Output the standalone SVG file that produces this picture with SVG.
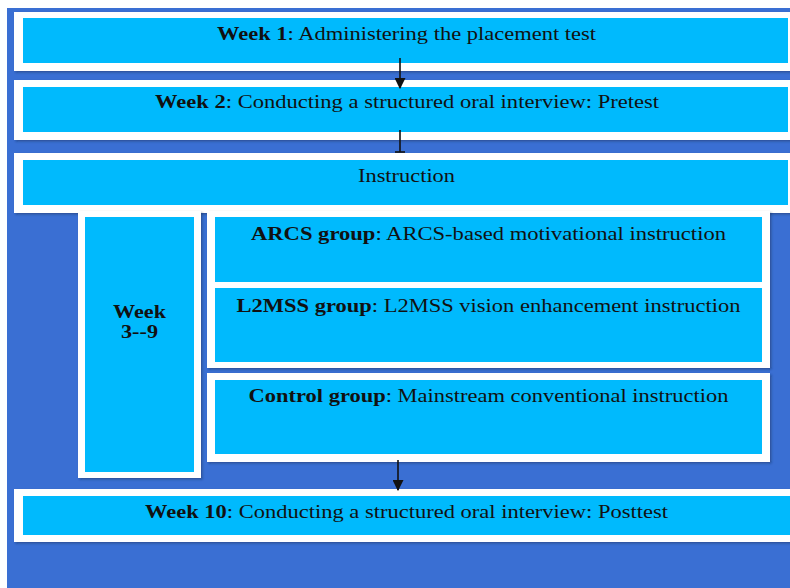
<svg xmlns="http://www.w3.org/2000/svg" width="790" height="588" viewBox="0 0 790 588">
<style>
.frame{fill:#ffffff;filter:url(#sh)}
.box{fill:#00BAFD}
.t{font-family:"Liberation Serif","Times New Roman",serif;font-size:18.5px;fill:#111;text-anchor:middle}
.b{font-weight:bold}
.conn{stroke:#111;stroke-width:1.6;fill:none}
</style>
<defs>
<filter id="sh" x="-5%" y="-5%" width="110%" height="120%">
<feDropShadow dx="1.5" dy="1.5" stdDeviation="1" flood-color="#1a2a50" flood-opacity="0.45"/>
</filter>
<marker id="ah" viewBox="0 0 10 10" refX="9" refY="5" markerWidth="11" markerHeight="11" markerUnits="userSpaceOnUse" orient="auto">
<path d="M0,0 L10,5 L0,10 z" fill="#111"/>
</marker>
</defs>
<rect x="0" y="0" width="790" height="588" fill="#ffffff"/>
<rect x="7" y="8" width="783" height="580" fill="#3A6FD3"/>

<g id="week1">
<rect class="frame" x="14" y="12" width="780" height="59"/>
<rect class="box" x="23" y="18" width="765" height="45"/>
<text class="t" x="406.5" y="40" textLength="379" lengthAdjust="spacingAndGlyphs"><tspan class="b">Week 1</tspan>: Administering the placement test</text>
</g>

<g id="week2">
<rect class="frame" x="14" y="80" width="780" height="60"/>
<rect class="box" x="23" y="87" width="765" height="45"/>
<text class="t" x="407" y="108" textLength="504" lengthAdjust="spacingAndGlyphs"><tspan class="b">Week 2</tspan>: Conducting a structured oral interview: Pretest</text>
</g>

<g id="instruction">
<rect class="frame" x="14" y="153" width="780" height="60"/>
<rect class="box" x="23" y="160" width="765" height="45"/>
<text class="t" x="406.5" y="182" textLength="97" lengthAdjust="spacingAndGlyphs">Instruction</text>
</g>

<g id="week3-9">
<rect class="frame" x="78" y="211" width="123" height="267"/>
<rect class="box" x="85" y="217" width="109" height="255"/>
<text class="t b" x="139.5" y="318" textLength="53" lengthAdjust="spacingAndGlyphs">Week</text>
<text class="t b" x="139.5" y="338" textLength="37" lengthAdjust="spacingAndGlyphs">3--9</text>
</g>

<g id="experimental">
<rect class="frame" x="207" y="211" width="563" height="157"/>
<g id="arcs">
<rect class="box" x="215" y="217" width="547" height="65"/>
<text class="t" x="488.5" y="240" textLength="475" lengthAdjust="spacingAndGlyphs"><tspan class="b">ARCS group</tspan>: ARCS-based motivational instruction</text>
</g>
<g id="l2mss">
<rect class="box" x="215" y="288" width="547" height="74"/>
<text class="t" x="488.5" y="312" textLength="504" lengthAdjust="spacingAndGlyphs"><tspan class="b">L2MSS group</tspan>: L2MSS vision enhancement instruction</text>
</g>
</g>

<g id="control">
<rect class="frame" x="207" y="373" width="563" height="89"/>
<rect class="box" x="215" y="380" width="547" height="74"/>
<text class="t" x="488.5" y="402" textLength="480" lengthAdjust="spacingAndGlyphs"><tspan class="b">Control group</tspan>: Mainstream conventional instruction</text>
</g>

<g id="week10">
<rect class="frame" x="14" y="489" width="780" height="53"/>
<rect class="box" x="23" y="496" width="767" height="39"/>
<text class="t" x="406.5" y="518" textLength="523" lengthAdjust="spacingAndGlyphs"><tspan class="b">Week 10</tspan>: Conducting a structured oral interview: Posttest</text>
</g>

<g id="connectors">
<line class="conn" x1="400" y1="58" x2="400" y2="88" marker-end="url(#ah)"/>
<line class="conn" x1="400" y1="130" x2="400" y2="152"/>
<line class="conn" x1="395" y1="152" x2="405" y2="152"/>
<line class="conn" x1="398" y1="460" x2="398" y2="490" marker-end="url(#ah)"/>
</g>
</svg>
